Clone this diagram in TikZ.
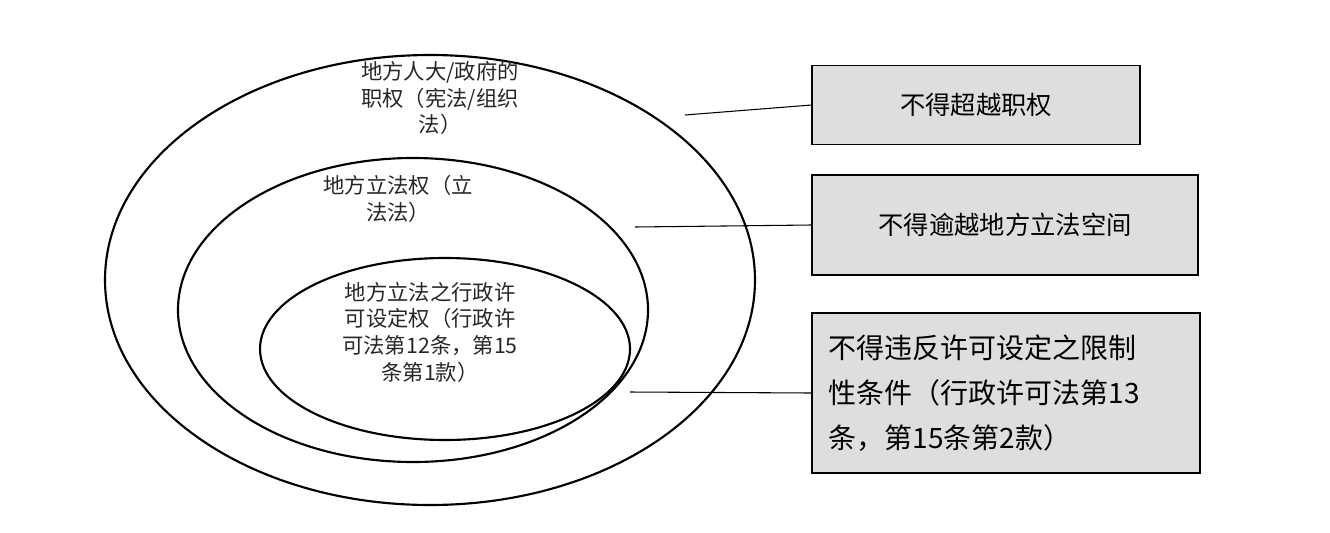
\documentclass[tikz,border=0pt]{standalone}
\usepackage{fontspec}
\setmainfont{Noto Sans CJK SC}
\begin{document}
\begin{tikzpicture}[x=0.75pt,y=-0.75pt,
  ell/.style={draw,line width=1.6pt},
  lab/.style={align=center,font=\fontsize{16}{20}\selectfont,text=black!85},
  box/.style={draw,line width=0.8pt,fill=black!13,font=\fontsize{19}{33}\selectfont,inner sep=0pt},
  conn/.style={draw,line width=0.8pt}]
\useasboundingbox (0,0) rectangle (1330,532);
\draw[ell] (430,280) ellipse (325 and 225);
\draw[ell] (413,310) ellipse (235 and 152);
\draw[ell] (445,349) ellipse (185 and 91);
\node[lab] (t1) at (440,98) {地方人大/政府的\\职权（宪法/组织\\法）};
\node[lab] (t2) at (398,199) {地方立法权（立\\法法）};
\node[lab] (t3) at (430,332) {地方立法之行政许\\可设定权（行政许\\可法第12条，第15\\条第1款）};
\node[box,minimum width=328*0.75pt,minimum height=79*0.75pt] (b1) at (976,105) {不得超越职权};
\node[box,minimum width=386*0.75pt,minimum height=100*0.75pt] (b2) at (1005,225) {不得逾越地方立法空间};
\node[box,minimum width=388*0.75pt,minimum height=160*0.75pt,align=left,text width=355*0.75pt,font=\fontsize{21}{34}\selectfont] (b3) at (1006,393) {不得违反许可设定之限制\\性条件（行政许可法第13\\条，第15条第2款）};
\coordinate (p1) at (685,115);
\coordinate (p2) at (635,227);
\coordinate (p3) at (630,392);
\draw[conn] (p1) -- (b1.west);
\draw[conn] (p2) -- (b2.west);
\draw[conn] (p3) -- (b3.west);
\end{tikzpicture}
\end{document}
